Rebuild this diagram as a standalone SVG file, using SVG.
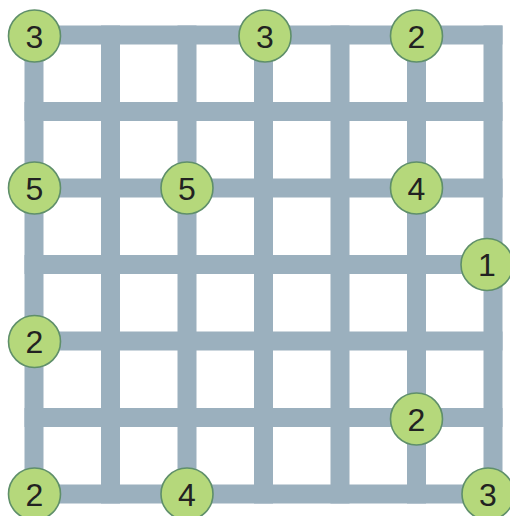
<svg xmlns="http://www.w3.org/2000/svg" width="510" height="516" viewBox="0 0 510 516">
<style>
.ln{stroke:#9bb0be;stroke-width:19;fill:none;stroke-linecap:square}
.nd circle{fill:#b5d87b;stroke:#5f8f6a;stroke-width:1.6}
.nd text{font-family:"Liberation Sans","DejaVu Sans",sans-serif;font-size:32px;fill:#222;text-anchor:middle}
</style>
<rect width="510" height="516" fill="#fff"/>
<g id="connectors" class="ln">
<path d="M34 35H493M34 111.5H493M34 188H493M34 264.5H493M34 341H493M34 417.5H493M34 494H493"/>
<path d="M34 35V494M110.5 35V494M187 35V494M263.5 35V494M340 35V494M416.5 35V494M493 35V494"/>
</g>
<g id="n1" class="nd"><circle cx="34.5" cy="36" r="26"/><text x="34.5" y="47.5">3</text></g>
<g id="n2" class="nd"><circle cx="265" cy="36" r="26"/><text x="265" y="47.5">3</text></g>
<g id="n3" class="nd"><circle cx="416.5" cy="36" r="26"/><text x="416.5" y="47.5">2</text></g>
<g id="n4" class="nd"><circle cx="34.5" cy="188" r="26"/><text x="34.5" y="199.5">5</text></g>
<g id="n5" class="nd"><circle cx="187" cy="188" r="26"/><text x="187" y="199.5">5</text></g>
<g id="n6" class="nd"><circle cx="416.5" cy="188" r="26"/><text x="416.5" y="199.5">4</text></g>
<g id="n7" class="nd"><circle cx="487" cy="264.5" r="26"/><text x="487" y="276">1</text></g>
<g id="n8" class="nd"><circle cx="34.5" cy="341.5" r="26"/><text x="34.5" y="353">2</text></g>
<g id="n9" class="nd"><circle cx="416.5" cy="419" r="26"/><text x="416.5" y="430.5">2</text></g>
<g id="n10" class="nd"><circle cx="34.5" cy="494" r="26"/><text x="34.5" y="505.5">2</text></g>
<g id="n11" class="nd"><circle cx="187" cy="494" r="26"/><text x="187" y="505.5">4</text></g>
<g id="n12" class="nd"><circle cx="488" cy="494" r="26"/><text x="488" y="505.5">3</text></g>
</svg>
